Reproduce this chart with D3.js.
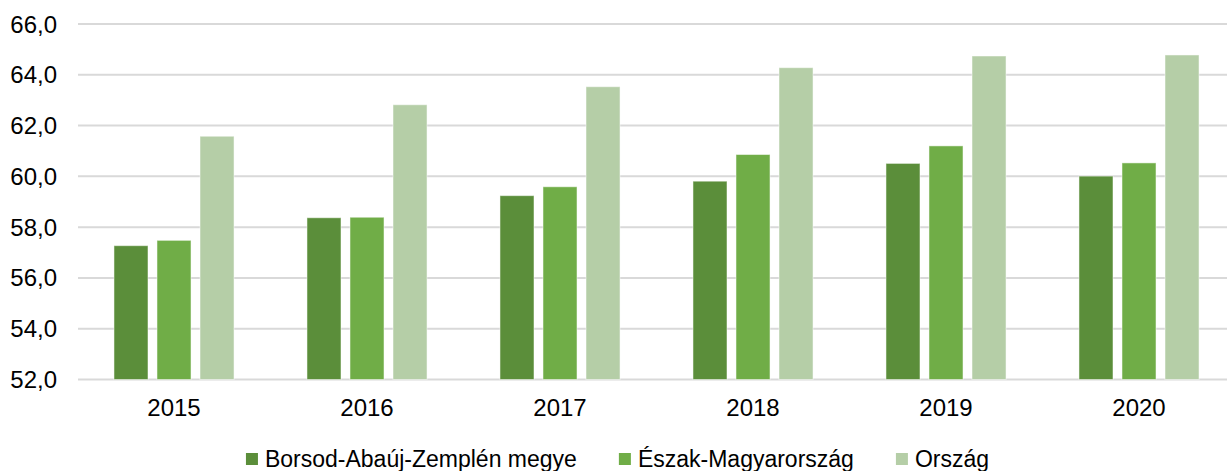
<!DOCTYPE html>
<html lang="hu">
<head>
<meta charset="UTF-8">
<title>Chart</title>
<style>
  body { margin: 0; padding: 0; background: #fff; }
  svg { display: block; font-family: "Liberation Sans", Arial, sans-serif; }
</style>
</head>
<body>
<svg id="chart"></svg>
<script src="https://cdnjs.cloudflare.com/ajax/libs/d3/7.9.0/d3.min.js"></script>
<script>
const years = ['2015', '2016', '2017', '2018', '2019', '2020'];
const seriesNames = ['Borsod-Abaúj-Zemplén megye', 'Észak-Magyarország', 'Ország'];
const borsod = [57.27, 58.37, 59.24, 59.81, 60.51, 60.01];
const eszak = [57.48, 58.39, 59.59, 60.86, 61.2, 60.53];
const orszag = [61.58, 62.82, 63.53, 64.28, 64.74, 64.78];
const yTicks = [52, 54, 56, 58, 60, 62, 64, 66];
const colors = ['#5b8e3a', '#70ad47', '#b5cea7'];

const width = 1227, height = 471;
const svg = d3.select('#chart').attr('width', width).attr('height', height);

const series = [borsod, eszak, orszag];
const rows = years.map((y, i) => ({ year: y, values: series.map(s => s[i]) }));

const x0 = d3.scaleBand().domain(years).range([77.5, 1235.5])
  .paddingInner(0.378).paddingOuter(0.189);
const x1 = d3.scaleBand().domain(d3.range(3)).range([0, x0.bandwidth()])
  .paddingInner(0.209).paddingOuter(0);
const y = d3.scaleLinear().domain([52, 66]).range([379.5, 24]);

// gridlines
svg.append('g')
  .selectAll('line')
  .data(yTicks)
  .join('line')
  .attr('x1', 78).attr('x2', width)
  .attr('y1', d => y(d)).attr('y2', d => y(d))
  .attr('stroke', '#d9d9d9')
  .attr('stroke-width', 2);

// y labels
svg.append('g')
  .selectAll('text')
  .data(yTicks)
  .join('text')
  .attr('x', 57)
  .attr('y', d => y(d) + 8.5)
  .attr('text-anchor', 'end')
  .attr('font-size', 24)
  .attr('fill', '#000')
  .text(d => d.toFixed(1).replace('.', ','));

// bars
const groups = svg.append('g')
  .selectAll('g')
  .data(rows)
  .join('g')
  .attr('transform', d => `translate(${x0(d.year)},0)`);

groups.selectAll('rect')
  .data(d => d.values.map((v, i) => ({ v, i })))
  .join('rect')
  .attr('x', d => x1(d.i))
  .attr('width', x1.bandwidth())
  .attr('y', d => y(d.v))
  .attr('height', d => y(52) - y(d.v))
  .attr('fill', d => colors[d.i])
  .attr('stroke', '#ffffff')
  .attr('stroke-opacity', 0.5)
  .attr('stroke-width', 1);

// x labels
svg.append('g')
  .selectAll('text')
  .data(years)
  .join('text')
  .attr('x', d => x0(d) + x0.bandwidth() / 2)
  .attr('y', 416)
  .attr('text-anchor', 'middle')
  .attr('font-size', 24)
  .attr('fill', '#000')
  .text(d => d);

// legend
const legend = svg.append('g');
const items = legend.selectAll('g')
  .data(seriesNames)
  .join('g');
items.append('rect')
  .attr('width', 12).attr('height', 12)
  .attr('y', 453)
  .attr('fill', (d, i) => colors[i]);
items.append('text')
  .attr('x', 19)
  .attr('y', 466.7)
  .attr('font-size', 23)
  .attr('fill', '#000')
  .text(d => d);

let cx = 0;
const offsets = [];
items.each(function (d, i) {
  const w = d3.select(this).select('text').node().getComputedTextLength();
  offsets.push(cx);
  cx += 19 + w + (i < seriesNames.length - 1 ? 42 : 0);
});
const start = (width - cx) / 2 + 4;
items.attr('transform', (d, i) => `translate(${start + offsets[i]},0)`);
</script>
</body>
</html>
